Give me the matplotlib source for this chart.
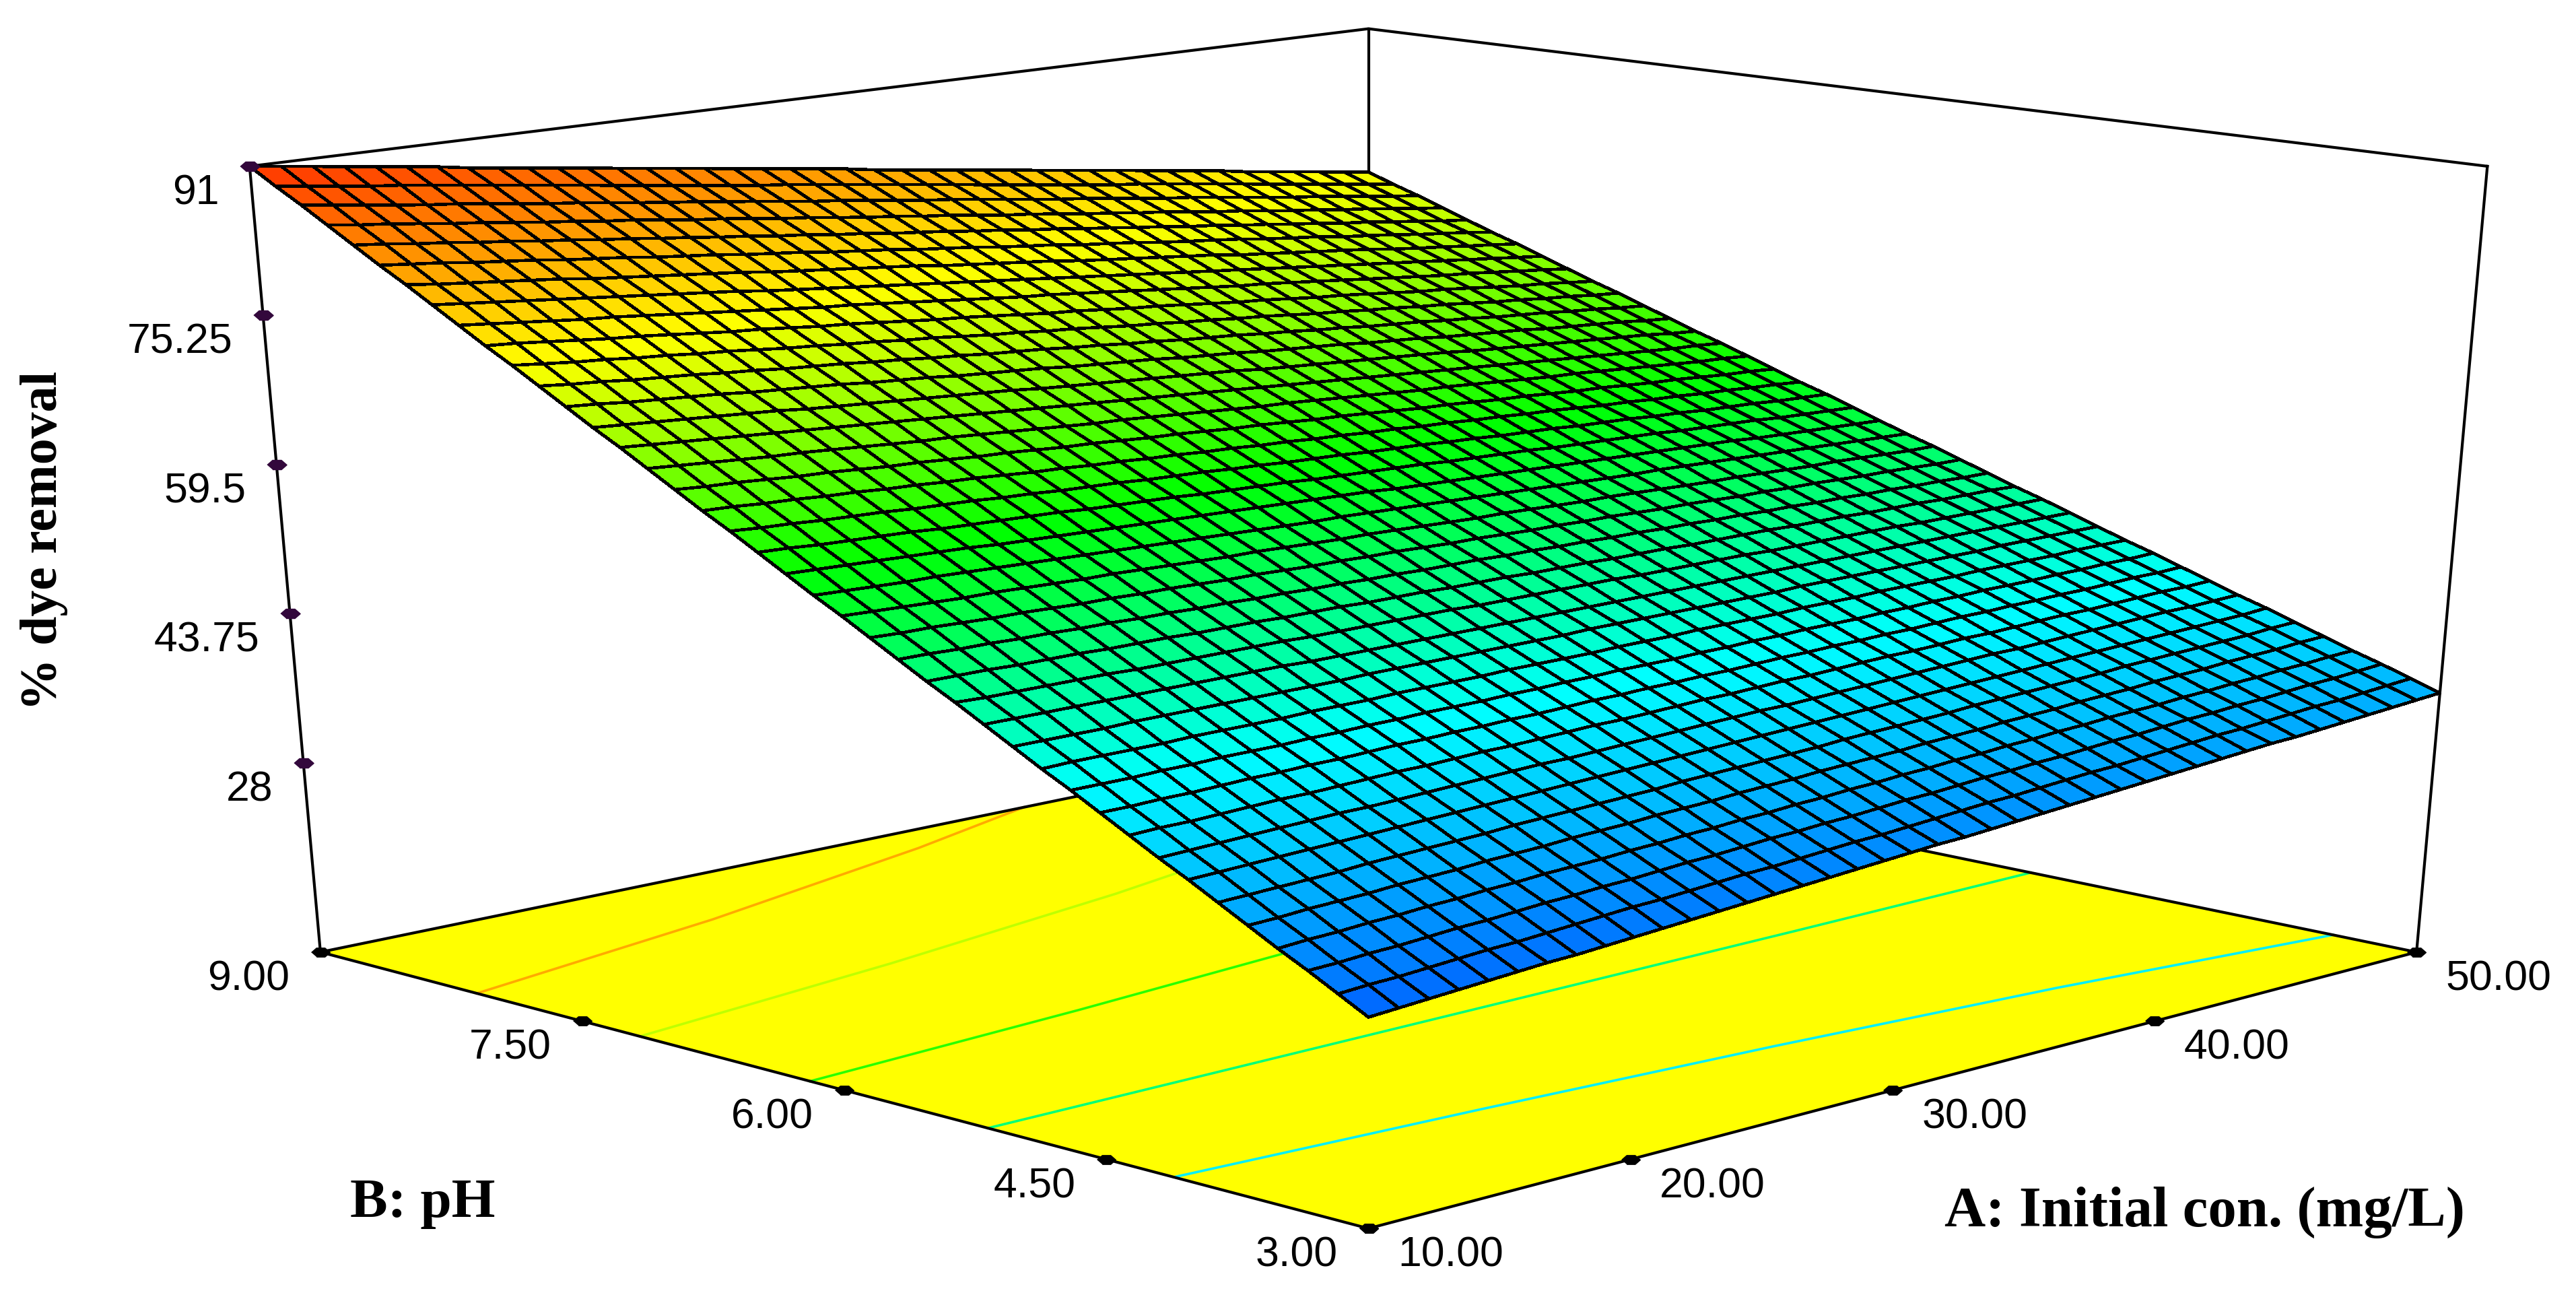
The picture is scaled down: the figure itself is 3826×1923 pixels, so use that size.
import numpy as np
import matplotlib
matplotlib.use('Agg')
import matplotlib.pyplot as plt
from matplotlib.colors import LinearSegmentedColormap
from matplotlib.lines import Line2D
from mpl_toolkits.mplot3d import proj3d

a_ticks = [10, 20, 30, 40, 50]
b_ticks = [3, 4.5, 6, 7.5, 9]
z_ticks = [91, 75.25, 59.5, 43.75, 28]
a_labels = ['10.00', '20.00', '30.00', '40.00', '50.00']
b_labels = ['3.00', '4.50', '6.00', '7.50', '9.00']
z_labels = ['91', '75.25', '59.5', '43.75', '28']
z_floor = 6.65
z_top = 91

a_grid = [10, 11, 12, 13, 14, 15, 16, 17, 18, 19, 20, 21, 22, 23, 24, 25, 26, 27, 28, 29, 30,
          31, 32, 33, 34, 35, 36, 37, 38, 39, 40, 41, 42, 43, 44, 45, 46, 47, 48, 49, 50]
b_grid = [3.00, 3.15, 3.30, 3.45, 3.60, 3.75, 3.90, 4.05, 4.20, 4.35, 4.50, 4.65, 4.80, 4.95, 5.10, 5.25, 5.40, 5.55, 5.70, 5.85, 6.00,
          6.15, 6.30, 6.45, 6.60, 6.75, 6.90, 7.05, 7.20, 7.35, 7.50, 7.65, 7.80, 7.95, 8.10, 8.25, 8.40, 8.55, 8.70, 8.85, 9.00]

# % dye removal, one row per b_grid value, one column per a_grid value
z_grid = [
    [28.0,28.2,28.4,28.6,28.8,29.0,29.2,29.3,29.5,29.7,29.9,30.1,30.3,30.5,30.7,30.9,31.1,31.3,31.5,31.7,31.9,32.0,32.2,32.4,32.6,32.8,33.0,33.2,33.4,33.6,33.8,34.0,34.2,34.4,34.5,34.7,34.9,35.1,35.3,35.5,35.7],
    [29.6,29.8,29.9,30.1,30.3,30.5,30.6,30.8,31.0,31.2,31.4,31.5,31.7,31.9,32.1,32.2,32.4,32.6,32.8,32.9,33.1,33.3,33.5,33.7,33.8,34.0,34.2,34.4,34.5,34.7,34.9,35.1,35.3,35.4,35.6,35.8,36.0,36.1,36.3,36.5,36.7],
    [31.2,31.3,31.5,31.6,31.8,32.0,32.1,32.3,32.5,32.6,32.8,32.9,33.1,33.3,33.4,33.6,33.8,33.9,34.1,34.2,34.4,34.6,34.7,34.9,35.1,35.2,35.4,35.5,35.7,35.9,36.0,36.2,36.4,36.5,36.7,36.8,37.0,37.2,37.3,37.5,37.7],
    [32.7,32.9,33.0,33.2,33.3,33.5,33.6,33.8,33.9,34.1,34.2,34.3,34.5,34.6,34.8,34.9,35.1,35.2,35.4,35.5,35.7,35.8,36.0,36.1,36.3,36.4,36.6,36.7,36.9,37.0,37.2,37.3,37.4,37.6,37.7,37.9,38.0,38.2,38.3,38.5,38.6],
    [34.3,34.4,34.6,34.7,34.8,35.0,35.1,35.2,35.4,35.5,35.6,35.8,35.9,36.0,36.2,36.3,36.4,36.6,36.7,36.8,37.0,37.1,37.2,37.3,37.5,37.6,37.7,37.9,38.0,38.1,38.3,38.4,38.5,38.7,38.8,38.9,39.1,39.2,39.3,39.5,39.6],
    [35.9,36.0,36.1,36.2,36.3,36.5,36.6,36.7,36.8,36.9,37.1,37.2,37.3,37.4,37.5,37.6,37.8,37.9,38.0,38.1,38.2,38.3,38.5,38.6,38.7,38.8,38.9,39.1,39.2,39.3,39.4,39.5,39.6,39.8,39.9,40.0,40.1,40.2,40.3,40.5,40.6],
    [37.5,37.6,37.7,37.8,37.9,38.0,38.1,38.2,38.3,38.4,38.5,38.6,38.7,38.8,38.9,39.0,39.1,39.2,39.3,39.4,39.5,39.6,39.7,39.8,39.9,40.0,40.1,40.2,40.3,40.4,40.5,40.6,40.7,40.8,40.9,41.0,41.1,41.2,41.3,41.4,41.6],
    [39.0,39.1,39.2,39.3,39.4,39.5,39.6,39.6,39.7,39.8,39.9,40.0,40.1,40.2,40.2,40.3,40.4,40.5,40.6,40.7,40.8,40.9,40.9,41.0,41.1,41.2,41.3,41.4,41.5,41.6,41.7,41.7,41.8,41.9,42.0,42.1,42.2,42.3,42.3,42.4,42.5],
    [40.6,40.7,40.7,40.8,40.9,41.0,41.0,41.1,41.2,41.3,41.3,41.4,41.5,41.5,41.6,41.7,41.8,41.8,41.9,42.0,42.1,42.1,42.2,42.3,42.3,42.4,42.5,42.6,42.6,42.7,42.8,42.8,42.9,43.0,43.1,43.1,43.2,43.3,43.4,43.4,43.5],
    [42.2,42.2,42.3,42.3,42.4,42.5,42.5,42.6,42.6,42.7,42.8,42.8,42.9,42.9,43.0,43.0,43.1,43.2,43.2,43.3,43.3,43.4,43.4,43.5,43.6,43.6,43.7,43.7,43.8,43.8,43.9,44.0,44.0,44.1,44.1,44.2,44.2,44.3,44.4,44.4,44.5],
    [43.8,43.8,43.8,43.9,43.9,44.0,44.0,44.0,44.1,44.1,44.2,44.2,44.3,44.3,44.3,44.4,44.4,44.5,44.5,44.6,44.6,44.6,44.7,44.7,44.8,44.8,44.9,44.9,44.9,45.0,45.0,45.1,45.1,45.2,45.2,45.2,45.3,45.3,45.4,45.4,45.5],
    [45.3,45.4,45.4,45.4,45.4,45.5,45.5,45.5,45.5,45.6,45.6,45.6,45.7,45.7,45.7,45.7,45.8,45.8,45.8,45.8,45.9,45.9,45.9,46.0,46.0,46.0,46.0,46.1,46.1,46.1,46.2,46.2,46.2,46.2,46.3,46.3,46.3,46.3,46.4,46.4,46.4],
    [46.9,46.9,46.9,46.9,47.0,47.0,47.0,47.0,47.0,47.0,47.0,47.0,47.1,47.1,47.1,47.1,47.1,47.1,47.1,47.1,47.2,47.2,47.2,47.2,47.2,47.2,47.2,47.2,47.3,47.3,47.3,47.3,47.3,47.3,47.3,47.3,47.4,47.4,47.4,47.4,47.4],
    [48.5,48.5,48.5,48.5,48.5,48.5,48.5,48.5,48.5,48.5,48.5,48.4,48.4,48.4,48.4,48.4,48.4,48.4,48.4,48.4,48.4,48.4,48.4,48.4,48.4,48.4,48.4,48.4,48.4,48.4,48.4,48.4,48.4,48.4,48.4,48.4,48.4,48.4,48.4,48.4,48.4],
    [50.1,50.0,50.0,50.0,50.0,50.0,49.9,49.9,49.9,49.9,49.9,49.9,49.8,49.8,49.8,49.8,49.8,49.8,49.7,49.7,49.7,49.7,49.7,49.7,49.6,49.6,49.6,49.6,49.6,49.5,49.5,49.5,49.5,49.5,49.5,49.4,49.4,49.4,49.4,49.4,49.4],
    [51.6,51.6,51.6,51.5,51.5,51.5,51.4,51.4,51.4,51.3,51.3,51.3,51.2,51.2,51.2,51.1,51.1,51.1,51.0,51.0,51.0,50.9,50.9,50.9,50.8,50.8,50.8,50.7,50.7,50.7,50.7,50.6,50.6,50.6,50.5,50.5,50.5,50.4,50.4,50.4,50.3],
    [53.2,53.2,53.1,53.1,53.0,53.0,52.9,52.9,52.8,52.8,52.7,52.7,52.6,52.6,52.5,52.5,52.4,52.4,52.3,52.3,52.3,52.2,52.2,52.1,52.1,52.0,52.0,51.9,51.9,51.8,51.8,51.7,51.7,51.6,51.6,51.5,51.5,51.4,51.4,51.3,51.3],
    [54.8,54.7,54.7,54.6,54.5,54.5,54.4,54.3,54.3,54.2,54.2,54.1,54.0,54.0,53.9,53.8,53.8,53.7,53.7,53.6,53.5,53.5,53.4,53.3,53.3,53.2,53.2,53.1,53.0,53.0,52.9,52.8,52.8,52.7,52.7,52.6,52.5,52.5,52.4,52.3,52.3],
    [56.4,56.3,56.2,56.1,56.0,56.0,55.9,55.8,55.7,55.7,55.6,55.5,55.4,55.3,55.3,55.2,55.1,55.0,55.0,54.9,54.8,54.7,54.6,54.6,54.5,54.4,54.3,54.3,54.2,54.1,54.0,53.9,53.9,53.8,53.7,53.6,53.6,53.5,53.4,53.3,53.3],
    [57.9,57.8,57.7,57.6,57.6,57.5,57.4,57.3,57.2,57.1,57.0,56.9,56.8,56.7,56.6,56.5,56.4,56.3,56.3,56.2,56.1,56.0,55.9,55.8,55.7,55.6,55.5,55.4,55.3,55.2,55.2,55.1,55.0,54.9,54.8,54.7,54.6,54.5,54.4,54.3,54.2],
    [59.5,59.4,59.3,59.2,59.1,59.0,58.9,58.7,58.6,58.5,58.4,58.3,58.2,58.1,58.0,57.9,57.8,57.7,57.6,57.5,57.4,57.2,57.1,57.0,56.9,56.8,56.7,56.6,56.5,56.4,56.3,56.2,56.1,56.0,55.9,55.7,55.6,55.5,55.4,55.3,55.2],
    [61.1,61.0,60.8,60.7,60.6,60.5,60.3,60.2,60.1,60.0,59.9,59.7,59.6,59.5,59.4,59.2,59.1,59.0,58.9,58.7,58.6,58.5,58.4,58.3,58.1,58.0,57.9,57.8,57.6,57.5,57.4,57.3,57.2,57.0,56.9,56.8,56.7,56.5,56.4,56.3,56.2],
    [62.7,62.5,62.4,62.2,62.1,62.0,61.8,61.7,61.6,61.4,61.3,61.1,61.0,60.9,60.7,60.6,60.5,60.3,60.2,60.0,59.9,59.8,59.6,59.5,59.4,59.2,59.1,58.9,58.8,58.7,58.5,58.4,58.3,58.1,58.0,57.8,57.7,57.6,57.4,57.3,57.2],
    [64.2,64.1,63.9,63.8,63.6,63.5,63.3,63.2,63.0,62.9,62.7,62.5,62.4,62.2,62.1,61.9,61.8,61.6,61.5,61.3,61.2,61.0,60.9,60.7,60.6,60.4,60.3,60.1,60.0,59.8,59.7,59.5,59.3,59.2,59.0,58.9,58.7,58.6,58.4,58.3,58.1],
    [65.8,65.6,65.5,65.3,65.1,65.0,64.8,64.6,64.5,64.3,64.1,64.0,63.8,63.6,63.5,63.3,63.1,63.0,62.8,62.6,62.5,62.3,62.1,62.0,61.8,61.6,61.4,61.3,61.1,60.9,60.8,60.6,60.4,60.3,60.1,59.9,59.8,59.6,59.4,59.3,59.1],
    [67.4,67.2,67.0,66.8,66.6,66.5,66.3,66.1,65.9,65.7,65.6,65.4,65.2,65.0,64.8,64.6,64.5,64.3,64.1,63.9,63.7,63.5,63.4,63.2,63.0,62.8,62.6,62.4,62.3,62.1,61.9,61.7,61.5,61.4,61.2,61.0,60.8,60.6,60.4,60.3,60.1],
    [69.0,68.8,68.6,68.4,68.2,68.0,67.8,67.6,67.4,67.2,67.0,66.8,66.6,66.4,66.2,66.0,65.8,65.6,65.4,65.2,65.0,64.8,64.6,64.4,64.2,64.0,63.8,63.6,63.4,63.2,63.0,62.8,62.6,62.4,62.2,62.0,61.8,61.6,61.4,61.3,61.1],
    [70.5,70.3,70.1,69.9,69.7,69.5,69.3,69.0,68.8,68.6,68.4,68.2,68.0,67.8,67.6,67.3,67.1,66.9,66.7,66.5,66.3,66.1,65.9,65.6,65.4,65.2,65.0,64.8,64.6,64.4,64.2,63.9,63.7,63.5,63.3,63.1,62.9,62.7,62.5,62.2,62.0],
    [72.1,71.9,71.6,71.4,71.2,71.0,70.7,70.5,70.3,70.1,69.8,69.6,69.4,69.1,68.9,68.7,68.5,68.2,68.0,67.8,67.6,67.3,67.1,66.9,66.6,66.4,66.2,66.0,65.7,65.5,65.3,65.0,64.8,64.6,64.4,64.1,63.9,63.7,63.5,63.2,63.0],
    [73.7,73.4,73.2,72.9,72.7,72.5,72.2,72.0,71.7,71.5,71.3,71.0,70.8,70.5,70.3,70.0,69.8,69.6,69.3,69.1,68.8,68.6,68.3,68.1,67.9,67.6,67.4,67.1,66.9,66.6,66.4,66.2,65.9,65.7,65.4,65.2,65.0,64.7,64.5,64.2,64.0],
    [75.3,75.0,74.7,74.5,74.2,74.0,73.7,73.5,73.2,72.9,72.7,72.4,72.2,71.9,71.7,71.4,71.1,70.9,70.6,70.4,70.1,69.8,69.6,69.3,69.1,68.8,68.6,68.3,68.0,67.8,67.5,67.3,67.0,66.8,66.5,66.2,66.0,65.7,65.5,65.2,65.0],
    [76.8,76.6,76.3,76.0,75.7,75.5,75.2,74.9,74.6,74.4,74.1,73.8,73.6,73.3,73.0,72.7,72.5,72.2,71.9,71.6,71.4,71.1,70.8,70.6,70.3,70.0,69.7,69.5,69.2,68.9,68.7,68.4,68.1,67.8,67.6,67.3,67.0,66.7,66.5,66.2,65.9],
    [78.4,78.1,77.8,77.5,77.2,77.0,76.7,76.4,76.1,75.8,75.5,75.2,74.9,74.7,74.4,74.1,73.8,73.5,73.2,72.9,72.7,72.4,72.1,71.8,71.5,71.2,70.9,70.6,70.4,70.1,69.8,69.5,69.2,68.9,68.6,68.3,68.1,67.8,67.5,67.2,66.9],
    [80.0,79.7,79.4,79.1,78.8,78.5,78.2,77.9,77.6,77.3,77.0,76.6,76.3,76.0,75.7,75.4,75.1,74.8,74.5,74.2,73.9,73.6,73.3,73.0,72.7,72.4,72.1,71.8,71.5,71.2,70.9,70.6,70.3,70.0,69.7,69.4,69.1,68.8,68.5,68.2,67.9],
    [81.6,81.2,80.9,80.6,80.3,80.0,79.6,79.3,79.0,78.7,78.4,78.1,77.7,77.4,77.1,76.8,76.5,76.2,75.8,75.5,75.2,74.9,74.6,74.2,73.9,73.6,73.3,73.0,72.7,72.3,72.0,71.7,71.4,71.1,70.8,70.4,70.1,69.8,69.5,69.2,68.9],
    [83.1,82.8,82.5,82.1,81.8,81.5,81.1,80.8,80.5,80.1,79.8,79.5,79.1,78.8,78.5,78.1,77.8,77.5,77.1,76.8,76.5,76.1,75.8,75.5,75.1,74.8,74.5,74.1,73.8,73.5,73.2,72.8,72.5,72.2,71.8,71.5,71.2,70.8,70.5,70.2,69.8],
    [84.7,84.4,84.0,83.7,83.3,83.0,82.6,82.3,81.9,81.6,81.2,80.9,80.5,80.2,79.8,79.5,79.1,78.8,78.4,78.1,77.8,77.4,77.1,76.7,76.4,76.0,75.7,75.3,75.0,74.6,74.3,73.9,73.6,73.2,72.9,72.5,72.2,71.8,71.5,71.1,70.8],
    [86.3,85.9,85.6,85.2,84.8,84.5,84.1,83.7,83.4,83.0,82.7,82.3,81.9,81.6,81.2,80.8,80.5,80.1,79.7,79.4,79.0,78.7,78.3,77.9,77.6,77.2,76.8,76.5,76.1,75.8,75.4,75.0,74.7,74.3,73.9,73.6,73.2,72.9,72.5,72.1,71.8],
    [87.9,87.5,87.1,86.7,86.3,86.0,85.6,85.2,84.8,84.5,84.1,83.7,83.3,83.0,82.6,82.2,81.8,81.4,81.1,80.7,80.3,79.9,79.6,79.2,78.8,78.4,78.0,77.7,77.3,76.9,76.5,76.2,75.8,75.4,75.0,74.6,74.3,73.9,73.5,73.1,72.8],
    [89.4,89.0,88.6,88.2,87.9,87.5,87.1,86.7,86.3,85.9,85.5,85.1,84.7,84.3,83.9,83.5,83.1,82.8,82.4,82.0,81.6,81.2,80.8,80.4,80.0,79.6,79.2,78.8,78.4,78.0,77.7,77.3,76.9,76.5,76.1,75.7,75.3,74.9,74.5,74.1,73.7],
    [91.0,90.6,90.2,89.8,89.4,89.0,88.6,88.1,87.7,87.3,86.9,86.5,86.1,85.7,85.3,84.9,84.5,84.1,83.7,83.3,82.9,82.4,82.0,81.6,81.2,80.8,80.4,80.0,79.6,79.2,78.8,78.4,78.0,77.6,77.2,76.7,76.3,75.9,75.5,75.1,74.7],
]

# contour lines on the floor: colour, A values, B values
contours = [
    ('#ffaa00', [10, 20, 30, 35.8], [8.00, 8.32, 8.72, 9.00]),
    ('#bfff00', [10, 20, 30, 40, 50], [7.00, 7.22, 7.49, 7.83, 8.28]),
    ('#2aff00', [10, 20, 30, 40, 50], [6.00, 6.11, 6.25, 6.43, 6.66]),
    ('#00ff78', [10, 20, 30, 40, 50], [5.00, 5.01, 5.02, 5.03, 5.05]),
    ('#00f0ff', [10, 20, 30, 40, 50], [4.00, 3.90, 3.78, 3.63, 3.43]),
]

cmap = LinearSegmentedColormap.from_list('dx', [(0, '#0064ff'), (0.25, '#00ffff'), (0.5, '#00ff00'),
                                                (0.75, '#ffff00'), (1, '#ff3200')])

fig = plt.figure(figsize=(38.26, 19.23), dpi=100)
ax = fig.add_axes([0, 0, 1, 1], projection='3d', computed_zorder=False)
# the picture is squeezed vertically, so the axes must not be forced to a square
ax.apply_aspect = lambda position=None: None
ax.set_box_aspect((1, 1, 1))
ax.view_init(elev=20, azim=-135)
ax.set_proj_type('persp', focal_length=0.5757)
ax.set_axis_off()

floor_a, floor_b = np.meshgrid([10, 50], [3, 9])
ax.plot_surface(floor_a, floor_b, np.full((2, 2), z_floor), color='#ffff00', shade=False, linewidth=0, zorder=1)
for color, ca, cb in contours:
    ax.plot(ca, cb, z_floor, color=color, lw=2.6, zorder=2)

box_lw = 3.0
ax.plot([10, 10, 50, 50], [3, 9, 9, 3], z_floor, color='k', lw=box_lw, zorder=3)
ax.plot([10, 50], [3, 3], z_floor, color='k', lw=box_lw, zorder=3)
ax.plot([10, 50, 50], [9, 9, 3], z_top, color='k', lw=box_lw, zorder=3)
for ca, cb in [(10, 9), (50, 9), (50, 3)]:
    ax.plot([ca, ca], [cb, cb], [z_floor, z_top], color='k', lw=box_lw, zorder=3)

grid_a, grid_b = np.meshgrid(a_grid, b_grid)
ax.plot_surface(grid_a, grid_b, np.array(z_grid), cmap=cmap, vmin=28, vmax=91, rstride=1, cstride=1,
                edgecolor='k', linewidth=2.6, antialiased=False, shade=False, zorder=5)

ax.set_xlim(10, 50, view_margin=0)
ax.set_ylim(3, 9, view_margin=0)
ax.set_zlim(z_floor, z_top, view_margin=0)
ax.viewLim.intervalx = (-0.09837, 0.08680)
ax.viewLim.intervaly = (-0.09522, 0.07534)

M = ax.get_proj()
tick_marker = [(-1, 0), (-0.45, 0.48), (0.45, 0.48), (1, 0), (0.45, -0.48), (-0.45, -0.48)]

# ticks are spaced evenly on screen between the ends of each edge, not in perspective
def draw_ticks(start, end, fracs, labels, color, ms, dx, dy, ha='center'):
    x0, y0, _ = proj3d.proj_transform(*start, M)
    x1, y1, _ = proj3d.proj_transform(*end, M)
    xs = [x0 + f * (x1 - x0) for f in fracs]
    ys = [y0 + f * (y1 - y0) for f in fracs]
    ax.add_line(Line2D(xs, ys, ls='none', marker=tick_marker, ms=ms, color=color, zorder=6))
    for x, y, text in zip(xs, ys, labels):
        ax.annotate(text, xy=(x, y), xytext=(dx, dy), textcoords='offset pixels', ha=ha, va='center',
                    family='Liberation Sans', fontsize=45, color='k', zorder=8)

draw_ticks((10, 9, 91), (10, 9, 28), [(91 - v) / 63 for v in z_ticks], z_labels, '#33083c', 21, -45, -40, ha='right')
draw_ticks((10, 3, z_floor), (50, 3, z_floor), [(v - 10) / 40 for v in a_ticks], a_labels, 'k', 20, 122, -40)
draw_ticks((10, 3, z_floor), (10, 9, z_floor), [(v - 3) / 6 for v in b_ticks], b_labels, 'k', 20, -107, -40)

fig.text(66 / 3826, 1 - 803 / 1923, '% dye removal', rotation=90, ha='center', va='center',
         family='Liberation Serif', weight='bold', fontsize=56)
fig.text(628 / 3826, 1 - 1807 / 1923, 'B: pH', ha='center', va='baseline',
         family='Liberation Serif', weight='bold', fontsize=60)
fig.text(3275 / 3826, 1 - 1821 / 1923, 'A: Initial con. (mg/L)', ha='center', va='baseline',
         family='Liberation Serif', weight='bold', fontsize=61)

fig.savefig('out.png', dpi=100, facecolor='white')
